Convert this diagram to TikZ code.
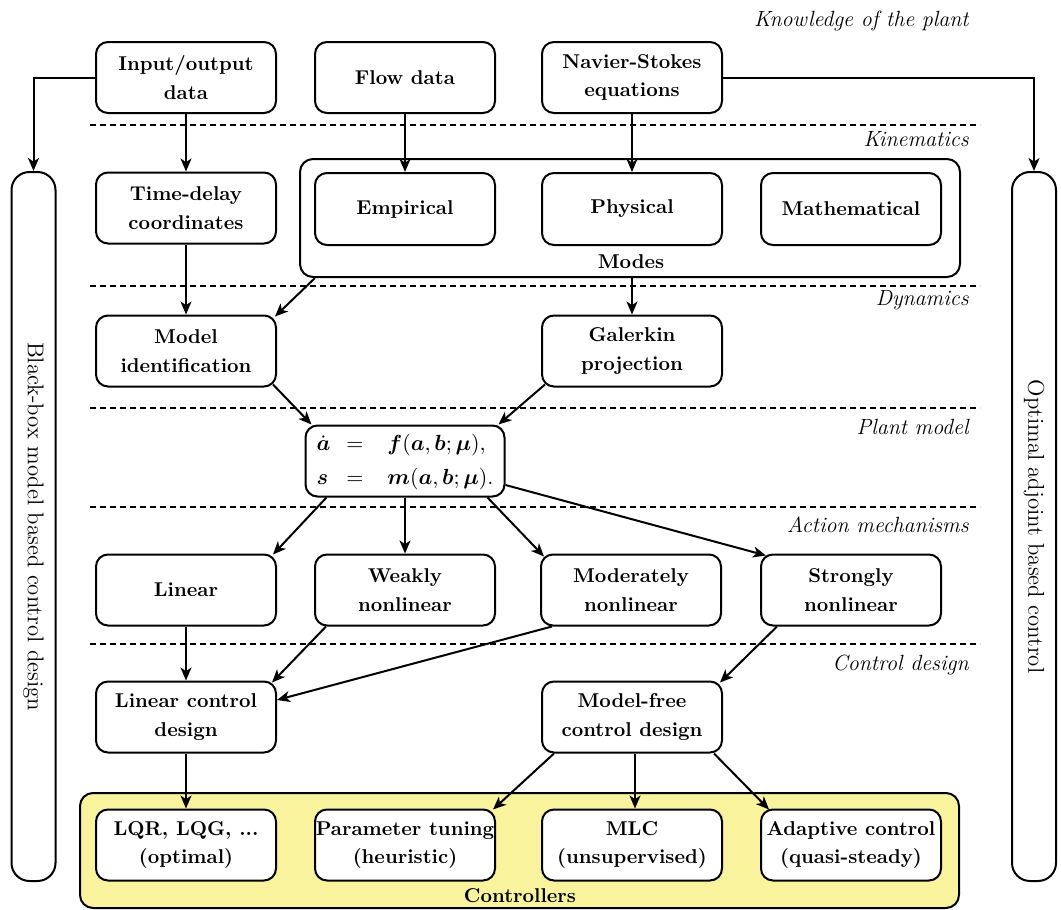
\documentclass[tikz,border=0pt]{standalone}
\usepackage{fontspec}
\usepackage{amsmath}
\usepackage{bm}
\usetikzlibrary{arrows.meta,calc}
\definecolor{ctrlyellow}{RGB}{250,243,158}
\begin{document}
\begin{tikzpicture}[x=0.5pt,y=-0.5pt,
  box/.style={draw,line width=1pt,rounded corners=6pt,minimum width=90pt,minimum height=35.5pt,align=center,inner sep=0pt,font=\fontsize{10}{14.2}\selectfont\bfseries,fill=white},
  arr/.style={line width=1pt,-{Stealth[length=6.5pt,width=5.5pt,inset=1.8pt]}},
  sep/.style={line width=0.8pt,dash pattern=on 3pt off 2pt},
  lvl/.style={anchor=east,inner sep=0pt,font=\fontsize{11}{13}\selectfont\itshape},
  bar/.style={draw,line width=1pt,rounded corners=9pt,minimum width=22pt,minimum height=354.5pt,inner sep=0pt},
  bartext/.style={rotate=-90,inner sep=0pt,font=\fontsize{11.4}{13}\selectfont},
  group/.style={draw,line width=1pt,rounded corners=6.5pt,inner sep=0pt}]
\useasboundingbox (0,0) rectangle (1061,910);

% separators
\foreach \yy in {125,286,408,507,644}
  \draw[sep] (90,\yy) -- (980,\yy);

% level labels
\node[lvl] (l1) at (969,21) {Knowledge of the plant};
\node[lvl] (l2) at (969,139) {Kinematics};
\node[lvl] (l3) at (969,300) {Dynamics};
\node[lvl] (l4) at (969,427) {Plant model};
\node[lvl] (l5) at (969,525) {Action mechanisms};
\node[lvl] (l6) at (969,665) {Control design};

% side bars
\node[bar] (lbar) at (33.5,526.5) {};
\node[bartext] (ltext) at (lbar.center) {Black-box model based control design};
\node[bar] (rbar) at (1034,526.5) {};
\node[bartext] (rtext) at (rbar.center) {Optimal adjoint based control};

% groups
\node[group,minimum width=330pt,minimum height=59pt] (modes) at (630,218) {};
\node[inner sep=0pt,font=\fontsize{10}{14}\selectfont\bfseries] (modeslbl) at (631,262) {Modes};
\node[group,fill=ctrlyellow,minimum width=439.5pt,minimum height=57.5pt] (ctrl) at (519.5,850.5) {};
\node[inner sep=0pt,font=\fontsize{10}{14}\selectfont\bfseries] (ctrllbl) at (520,896) {Controllers};

% row 1
\node[box] (io) at (186,77.5) {Input/output\\data};
\node[box] (flow) at (405,77.5) {Flow data};
\node[box] (ns) at (632,77.5) {Navier-Stokes\\equations};
% row 2
\node[box] (td) at (186,208) {Time-delay\\coordinates};
\node[box,minimum height=36pt] (emp) at (405,209) {Empirical};
\node[box,minimum height=36pt] (phys) at (632,209) {Physical};
\node[box,minimum height=36pt] (math) at (851,209) {Mathematical};
% row 3
\node[box] (mi) at (186,351) {Model\\identification};
\node[box] (gal) at (632,351) {Galerkin\\projection};
% plant model
\node[box,minimum width=99.5pt,font=\fontsize{10.95}{13}\selectfont] (eq) at (405,461)
  {$\renewcommand{\arraystretch}{1.3}\begin{array}{@{}l@{\hspace{8pt}}c@{\hspace{12pt}}l@{}}
    \dot{\bm a} & = & \bm f(\bm a,\bm b;\bm\mu),\\
    \bm s & = & \bm m(\bm a,\bm b;\bm\mu).
  \end{array}$};
% action mechanisms
\node[box] (lin) at (186,590) {Linear};
\node[box] (weak) at (405,590) {Weakly\\nonlinear};
\node[box] (mod) at (631,590) {Moderately\\nonlinear};
\node[box] (strong) at (851,590) {Strongly\\nonlinear};
% control design
\node[box] (lcd) at (186,717) {Linear control\\design};
\node[box] (mfcd) at (632,717) {Model-free\\control design};
% controllers
\node[box] (lqr) at (186,845) {LQR, LQG, ...\\(optimal)};
\node[box] (pt) at (405,845) {Parameter tuning\\(heuristic)};
\node[box] (mlc) at (632,845) {MLC\\(unsupervised)};
\node[box] (ad) at (851,845) {Adaptive control\\(quasi-steady)};

% connectors
\draw[arr] (io.west) -| (lbar.north);
\draw[arr] (ns.east) -| (rbar.north);
\draw[arr] (io.south) -- (td.north);
\draw[arr] (flow.south) -- (emp.north);
\draw[arr] (ns.south) -- (phys.north);
\draw[arr] (td.south) -- (mi.north);
\draw[arr] (gal.north |- modes.south) -- (gal.north);
\draw[arr] ($(modes.south west)+(16,0)$) -- ($(mi.north east)+(-2,2)$);
\draw[arr] ($(mi.south east)+(-4,-3)$) -- ($(eq.north west)+(7,0)$);
\draw[arr] ($(gal.south west)+(4,-3)$) -- ($(eq.north east)+(-7,0)$);
\draw[arr] ($(eq.south west)+(22,0)$) -- ($(lin.north east)+(-4,1)$);
\draw[arr] (eq.south) -- (weak.north);
\draw[arr] ($(eq.south east)+(-18,0)$) -- ($(mod.north west)+(4,3)$);
\draw[arr] ($(eq.east)+(0,24)$) -- ($(strong.north west)+(6,2)$);
\draw[arr] (lin.south) -- (lcd.north);
\draw[arr] ($(weak.south west)+(12,0)$) -- ($(lcd.north east)+(-5,2)$);
\draw[arr] ($(mod.south west)+(12,0)$) -- ($(lcd.east)+(0,-17)$);
\draw[arr] ($(strong.south west)+(17,0)$) -- ($(mfcd.north east)+(-3,2)$);
\draw[arr] (lcd.south) -- (lqr.north);
\draw[arr] ($(mfcd.south west)+(13,0)$) -- ($(pt.north east)+(-3,1)$);
\draw[arr] ($(mfcd.south)+(3,0)$) -- ($(mlc.north)+(3,0)$);
\draw[arr] ($(mfcd.south east)+(-9,0)$) -- ($(ad.north west)+(9,1)$);
\end{tikzpicture}
\end{document}
